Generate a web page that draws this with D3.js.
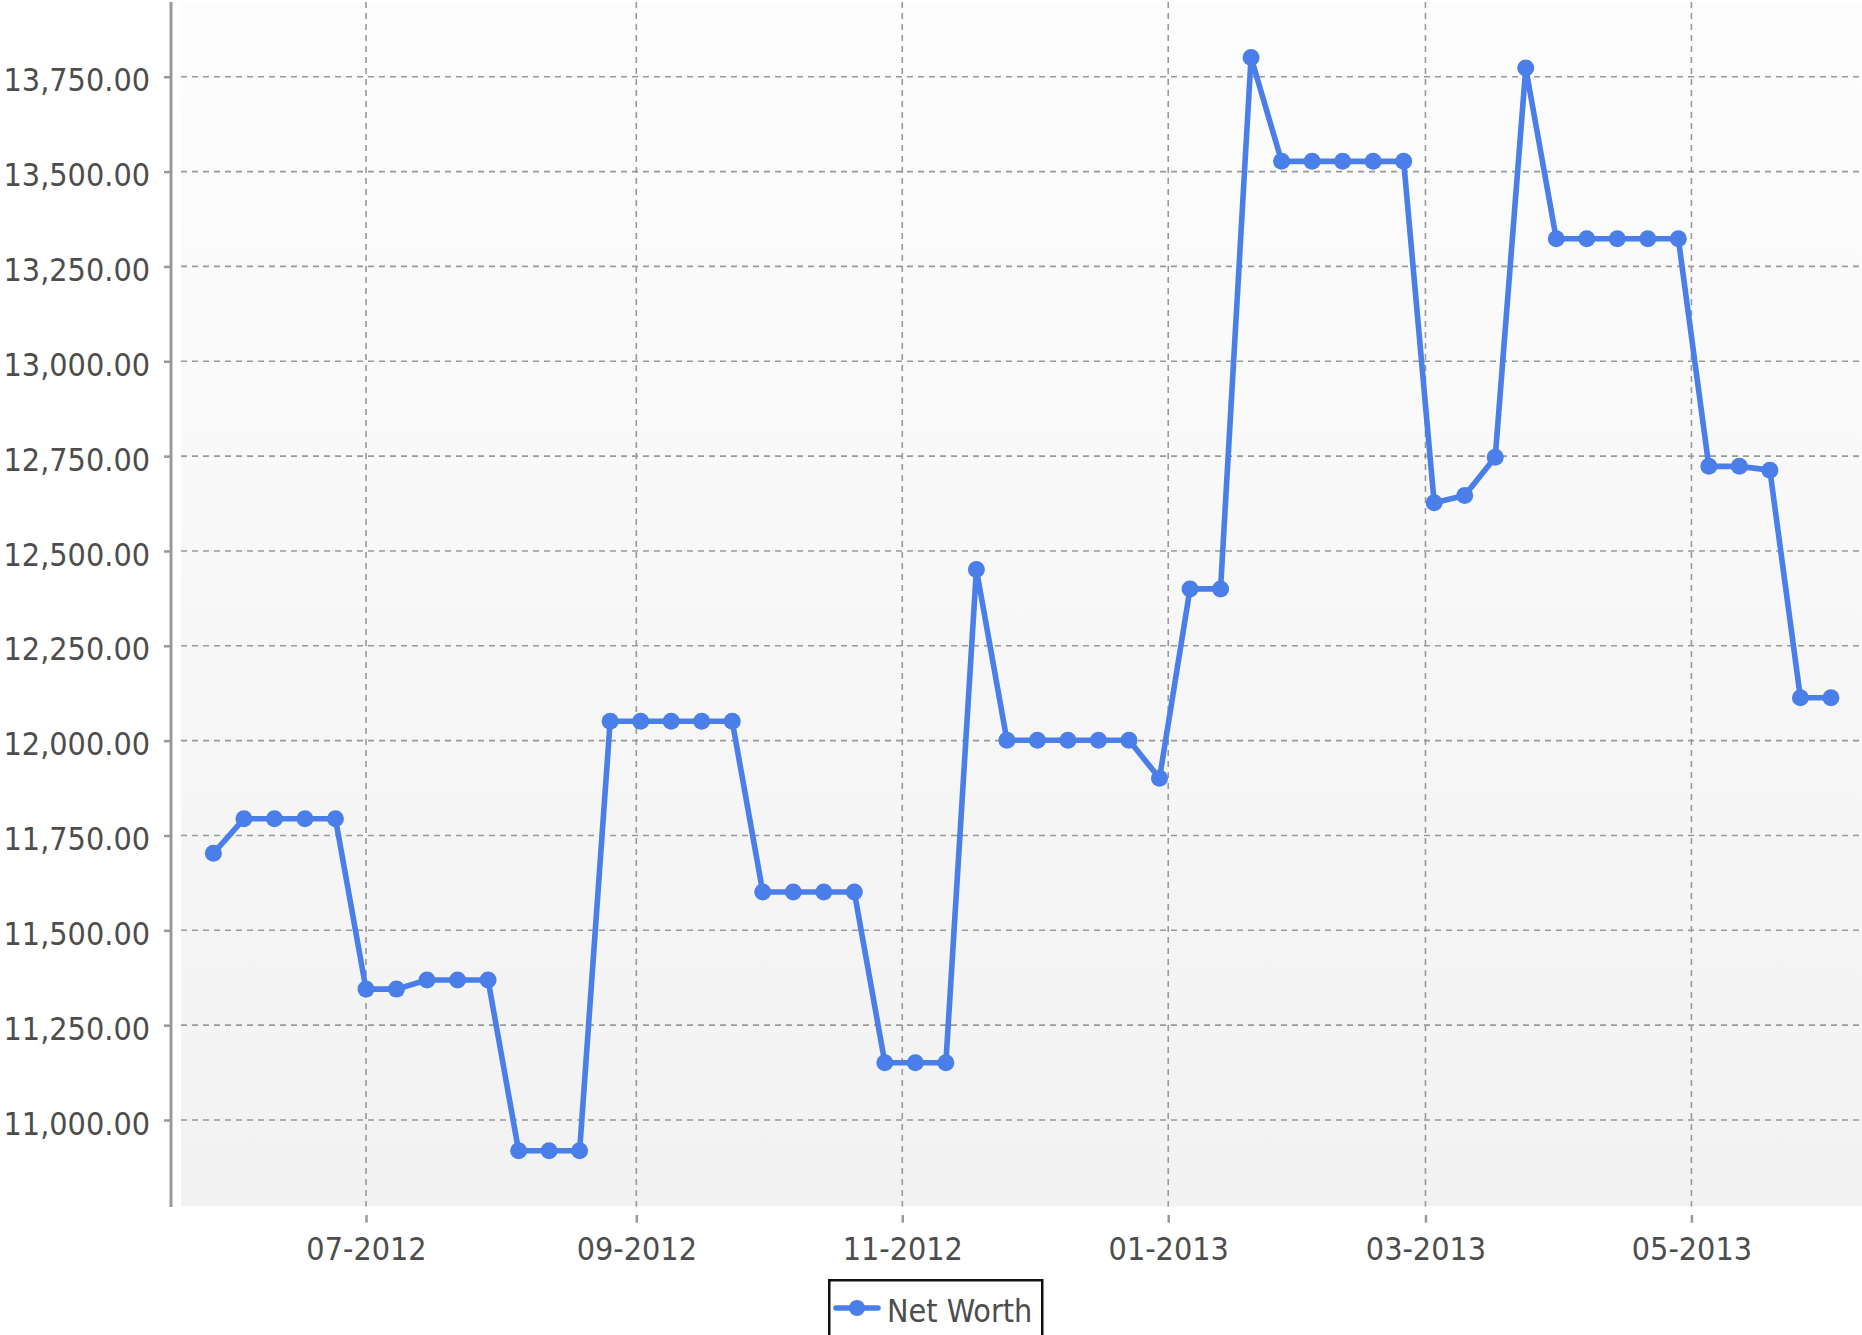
<!DOCTYPE html>
<html>
<head>
<meta charset="utf-8">
<script src="https://cdn.jsdelivr.net/npm/d3@7"></script>
<style>
  body { margin: 0; background: #fff; }
  text { font-family: "DejaVu Sans Condensed", "DejaVu Sans", sans-serif; font-stretch: condensed; }
</style>
</head>
<body>
<div id="chart"></div>
<script>
// weekly net worth snapshots
const weeks = [
  "2012-05-27", "2012-06-03", "2012-06-10", "2012-06-17", "2012-06-24",
  "2012-07-01", "2012-07-08", "2012-07-15", "2012-07-22", "2012-07-29",
  "2012-08-05", "2012-08-12", "2012-08-19", "2012-08-26", "2012-09-02",
  "2012-09-09", "2012-09-16", "2012-09-23", "2012-09-30", "2012-10-07",
  "2012-10-14", "2012-10-21", "2012-10-28", "2012-11-04", "2012-11-11",
  "2012-11-18", "2012-11-25", "2012-12-02", "2012-12-09", "2012-12-16",
  "2012-12-23", "2012-12-30", "2013-01-06", "2013-01-13", "2013-01-20",
  "2013-01-27", "2013-02-03", "2013-02-10", "2013-02-17", "2013-02-24",
  "2013-03-03", "2013-03-10", "2013-03-17", "2013-03-24", "2013-03-31",
  "2013-04-07", "2013-04-14", "2013-04-21", "2013-04-28", "2013-05-05",
  "2013-05-12", "2013-05-19", "2013-05-26", "2013-06-02"
];
const netWorth = [
  11703, 11794, 11794, 11794, 11794,
  11345, 11345, 11369, 11369, 11369,
  10919, 10919, 10919, 12051, 12051,
  12051, 12051, 12051, 11601, 11601,
  11601, 11601, 11151, 11151, 11151,
  12451, 12001, 12001, 12001, 12001,
  12001, 11901, 12400, 12400, 13801,
  13527, 13527, 13527, 13527, 13527,
  12627, 12646, 12747, 13773, 13323,
  13323, 13323, 13323, 13323, 12723,
  12723, 12713, 12113, 12113
];
const seriesName = "Net Worth";
const yTicks = [11000, 11250, 11500, 11750, 12000, 12250, 12500, 12750, 13000, 13250, 13500, 13750];
const xStart = "2012-05-19T13:40:00Z", xEnd = "2013-06-09T03:00:00Z";
const yMin = 10772, yMax = 13947;

const width = 1862, height = 1335;
const plotLeft = 181, plotRight = 1862, plotTop = 2, plotBottom = 1206.5;
const axisX = 171;
const blue = "#4a7ee8", gridColor = "#999", textColor = "#4d4d4d";

let data = weeks.map((w, i) => ({date: new Date(w + "T00:00:00Z"), value: netWorth[i]}));

let svg = d3.select("#chart")
  .append("svg")
  .attr("width", width)
  .attr("height", height);

// plot background gradient
let grad = svg.append("defs").append("linearGradient")
  .attr("id", "bg")
  .attr("x1", 0).attr("y1", 0).attr("x2", 0).attr("y2", 1);
grad.append("stop").attr("offset", "0%").attr("stop-color", "#fdfdfd");
grad.append("stop").attr("offset", "100%").attr("stop-color", "#f2f2f2");

svg.append("rect")
  .attr("x", plotLeft)
  .attr("y", plotTop)
  .attr("width", plotRight - plotLeft)
  .attr("height", plotBottom - plotTop)
  .attr("fill", "url(#bg)");

let x = d3.scaleUtc()
  .domain([new Date(xStart), new Date(xEnd)])
  .range([plotLeft, plotRight]);

let y = d3.scaleLinear()
  .domain([yMin, yMax])
  .range([plotBottom, plotTop]);

let xTicks = x.ticks(d3.utcMonth.every(2));

// grid lines
svg.append("g")
  .selectAll("line")
  .data(yTicks)
  .enter()
  .append("line")
  .attr("x1", plotLeft)
  .attr("x2", plotRight)
  .attr("y1", d => y(d))
  .attr("y2", d => y(d))
  .attr("stroke", gridColor)
  .attr("stroke-width", 1.6)
  .attr("stroke-dasharray", "6,5");

svg.append("g")
  .selectAll("line")
  .data(xTicks)
  .enter()
  .append("line")
  .attr("x1", d => x(d))
  .attr("x2", d => x(d))
  .attr("y1", plotTop)
  .attr("y2", plotBottom)
  .attr("stroke", gridColor)
  .attr("stroke-width", 1.6)
  .attr("stroke-dasharray", "6,5");

// y axis
let yAxis = svg.append("g")
  .attr("transform", `translate(${axisX}, 0)`)
  .call(d3.axisLeft(y).tickValues(yTicks).tickSize(7).tickPadding(14).tickFormat(d3.format(",.2f")));
yAxis.select(".domain").remove();
yAxis.selectAll("line").attr("stroke", "#999").attr("stroke-width", 2.5);
yAxis.selectAll("text")
  .attr("dy", "0.44em")
  .attr("fill", textColor)
  .style("font-size", "32px");

svg.append("line")
  .attr("x1", axisX).attr("x2", axisX)
  .attr("y1", plotTop).attr("y2", plotBottom + 0.5)
  .attr("stroke", "#999")
  .attr("stroke-width", 3);

// x axis
let xAxis = svg.append("g")
  .attr("transform", `translate(0, 1215)`)
  .call(d3.axisBottom(x).tickValues(xTicks).tickSize(7.7).tickPadding(14.6).tickFormat(d3.utcFormat("%m-%Y")));
xAxis.select(".domain").remove();
xAxis.selectAll("line").attr("stroke", "#999").attr("stroke-width", 2.5);
xAxis.selectAll("text")
  .attr("fill", textColor)
  .style("font-size", "32px");

// series line and points
svg.append("path")
  .datum(data)
  .attr("fill", "none")
  .attr("stroke", blue)
  .attr("stroke-width", 5.6)
  .attr("stroke-linejoin", "round")
  .attr("d", d3.line().x(d => x(d.date)).y(d => y(d.value)));

svg.append("g")
  .selectAll("circle")
  .data(data)
  .enter()
  .append("circle")
  .attr("cx", d => x(d.date))
  .attr("cy", d => y(d.value))
  .attr("r", 8.5)
  .attr("fill", blue);

// legend
let legend = svg.append("g").attr("transform", "translate(828, 1279)");
legend.append("rect")
  .attr("x", 1.25).attr("y", 1.25)
  .attr("width", 213).attr("height", 80)
  .attr("fill", "#fff")
  .attr("stroke", "#111")
  .attr("stroke-width", 2.5);
legend.append("line")
  .attr("x1", 8).attr("x2", 50)
  .attr("y1", 29).attr("y2", 29)
  .attr("stroke", blue)
  .attr("stroke-width", 5.6)
  .attr("stroke-linecap", "round");
legend.append("circle")
  .attr("cx", 29).attr("cy", 29).attr("r", 8)
  .attr("fill", blue);
legend.append("text")
  .attr("x", 59).attr("y", 42.7)
  .attr("fill", textColor)
  .style("font-size", "32px")
  .text(seriesName);
</script>
</body>
</html>
